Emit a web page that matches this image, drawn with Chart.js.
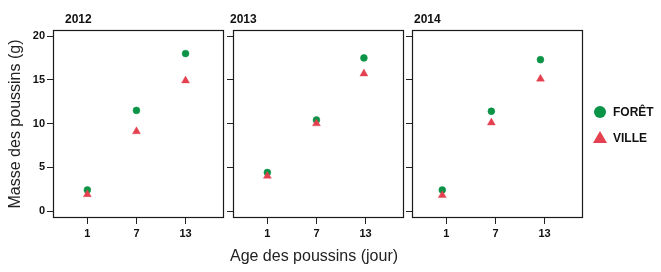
<!DOCTYPE html>
<html><head><meta charset="utf-8">
<script src="https://cdn.jsdelivr.net/npm/chart.js@4"></script>
<style>
html,body{margin:0;padding:0;background:#fff;}
#wrap{position:relative;width:661px;height:272px;overflow:hidden;font-family:"Liberation Sans",Arial,sans-serif;background:#fff;}
canvas{position:absolute;top:0;}
.pt{position:absolute;font-weight:bold;font-size:12px;line-height:14px;color:#111;white-space:nowrap;}
.xt{position:absolute;font-size:16px;line-height:18px;color:#222;white-space:nowrap;transform:translateX(-50%);}
.lg{position:absolute;font-weight:bold;font-size:12px;line-height:14px;color:#111;white-space:nowrap;}
</style></head><body>
<div id="wrap">
<canvas id="c0" style="left:0px" width="230" height="272"></canvas>
<canvas id="c1" style="left:224px" width="186" height="272"></canvas>
<canvas id="c2" style="left:403px" width="186" height="272"></canvas>
<div class="pt" style="left:65px;top:12px">2012</div>
<div class="pt" style="left:230px;top:12px">2013</div>
<div class="pt" style="left:414px;top:12px">2014</div>
<div class="xt" style="left:314px;top:247px">Age des poussins (jour)</div>
<div style="position:absolute;left:594px;top:106px;width:12px;height:12px;border-radius:50%;background:#0b9447;"></div>
<div class="lg" style="left:613px;top:105px">FORÊT</div>
<div style="position:absolute;left:593px;top:131px;width:0;height:0;border-left:7px solid transparent;border-right:7px solid transparent;border-bottom:12px solid #e5404f;"></div>
<div class="lg" style="left:613px;top:131px">VILLE</div>
</div>
<script>
const days = [1, 7, 13];
const xTickLabels = ['1', '7', '13'];
const yTicks = [0, 5, 10, 15, 20];
const years = ['2012', '2013', '2014'];
const seriesNames = ['FORÊT', 'VILLE'];
const xPos2012 = [1, 7, 13];
const xPos2013 = [1, 7, 12.8];
const xPos2014 = [0.5, 6.5, 12.5];
const foret2012 = [2.4, 11.5, 18.0];
const ville2012 = [1.9, 9.1, 14.9];
const foret2013 = [4.4, 10.4, 17.5];
const ville2013 = [4.0, 10.0, 15.7];
const foret2014 = [2.4, 11.4, 17.3];
const ville2014 = [1.8, 10.1, 15.1];

const GREEN = '#0b9447';
const RED = '#e5404f';
const FAM = '"Liberation Sans", Arial, sans-serif';

const panels = [
  {id: 'c0', xs: xPos2012, f: foret2012, v: ville2012, first: true},
  {id: 'c1', xs: xPos2013, f: foret2013, v: ville2013, first: false},
  {id: 'c2', xs: xPos2014, f: foret2014, v: ville2014, first: false}
];

const boxPlugin = {
  id: 'box',
  afterDraw(chart) {
    const a = chart.chartArea, ctx = chart.ctx;
    ctx.save();
    ctx.strokeStyle = '#1a1a1a';
    ctx.lineWidth = 1.2;
    ctx.strokeRect(Math.round(a.left) + 0.5, Math.round(a.top) + 0.5,
      Math.round(a.right - a.left) - 1, Math.round(a.bottom - a.top) - 1);
    ctx.restore();
  }
};

const pts = (xs, ys) => xs.map((x, i) => ({x: x, y: ys[i]}));

panels.forEach((p) => {
  new Chart(document.getElementById(p.id), {
    type: 'scatter',
    data: {
      datasets: [
        {label: seriesNames[0], data: pts(p.xs, p.f), pointStyle: 'circle', pointRadius: 3.4,
         backgroundColor: GREEN, borderColor: GREEN, borderWidth: 0.6, order: 1},
        {label: seriesNames[1], data: pts(p.xs, p.v), pointStyle: 'triangle', pointRadius: 4.6,
         backgroundColor: RED, borderColor: RED, borderWidth: 0.4, order: 0}
      ]
    },
    options: {
      responsive: false,
      animation: false,
      events: [],
      layout: {padding: {top: 30, right: 6, bottom: 0, left: 0}},
      plugins: {legend: {display: false}, tooltip: {enabled: false}, title: {display: false}},
      scales: {
        x: {
          type: 'linear', min: -3.2, max: 17.7,
          afterBuildTicks: (s) => { s.ticks = days.map(v => ({value: v})); },
          afterFit: (s) => { s.height = 54; },
          ticks: {
            callback: (v) => { const i = days.indexOf(v); return i >= 0 ? xTickLabels[i] : ''; },
            font: {family: FAM, size: 11, weight: 'bold'}, color: '#111',
            padding: 3, maxRotation: 0, autoSkip: false
          },
          grid: {drawOnChartArea: false, drawTicks: true, tickLength: 6, color: '#222', tickWidth: 1},
          border: {display: false}
        },
        y: {
          type: 'linear', min: -0.8, max: 20.69,
          afterBuildTicks: (s) => { s.ticks = yTicks.map(v => ({value: v})); },
          afterFit: (s) => { s.width = p.first ? 53 : 9; },
          ticks: {
            display: p.first,
            callback: (v) => String(v),
            font: {family: FAM, size: 11, weight: 'bold'}, color: '#111', padding: 2
          },
          grid: {drawOnChartArea: false, drawTicks: true, tickLength: 6, color: '#222', tickWidth: 1},
          border: {display: false},
          title: {
            display: p.first, text: 'Masse des poussins (g)',
            font: {family: FAM, size: 16}, color: '#222', padding: {top: 6.4, bottom: 0}
          }
        }
      }
    },
    plugins: [boxPlugin]
  });
});
</script>
</body></html>
